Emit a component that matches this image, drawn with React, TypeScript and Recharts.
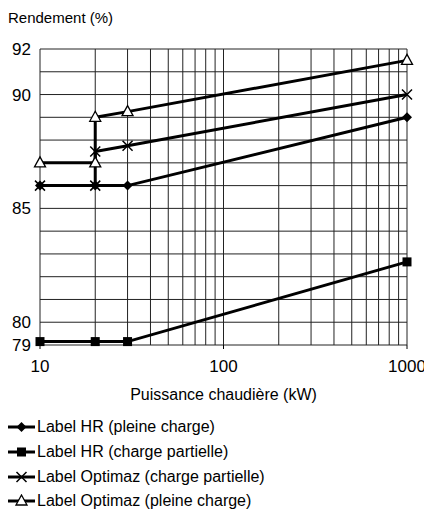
import { Line, LineChart, ReferenceLine, XAxis, YAxis } from "recharts";

// puissance (kW) / rendement (%)
const hrPleineP = [10, 20, 30, 1000];
const hrPleineR = [86, 86, 86, 89];
const hrPartielleP = [10, 20, 30, 1000];
const hrPartielleR = [79.15, 79.15, 79.15, 82.65];
const optPartielleP = [10, 20, 20, 30, 1000];
const optPartielleR = [86, 86, 87.5, 87.75, 90];
const optPleineP = [10, 20, 20, 30, 1000];
const optPleineR = [87, 87, 89, 89.25, 91.5];

const xTicks = [10, 100, 1000];
const yTicks = [79, 80, 85, 90, 92];
const xGrid = [10, 20, 30, 40, 50, 60, 70, 80, 90, 100, 200, 300, 400, 500, 600, 700, 800, 900, 1000];
const yGrid = [79, 80, 81, 82, 83, 84, 85, 86, 87, 88, 89, 90, 91, 92];

const toPoints = (p: number[], r: number[]) => p.map((x, i) => ({ p: x, r: r[i] }));

type Shape = "diamond" | "square" | "cross" | "triangle";

const series: { name: string; shape: Shape; data: { p: number; r: number }[] }[] = [
  { name: "Label HR (pleine charge)", shape: "diamond", data: toPoints(hrPleineP, hrPleineR) },
  { name: "Label HR (charge partielle)", shape: "square", data: toPoints(hrPartielleP, hrPartielleR) },
  { name: "Label Optimaz (charge partielle)", shape: "cross", data: toPoints(optPartielleP, optPartielleR) },
  { name: "Label Optimaz (pleine charge)", shape: "triangle", data: toPoints(optPleineP, optPleineR) },
];

const FONT = "'Liberation Sans', Arial, sans-serif";

function Marker({ shape, cx, cy }: { shape: Shape; cx: number; cy: number }) {
  if (shape === "diamond")
    return <path d={`M${cx},${cy - 5}L${cx + 5},${cy}L${cx},${cy + 5}L${cx - 5},${cy}Z`} fill="#000" />;
  if (shape === "square") return <rect x={cx - 4.5} y={cy - 4.5} width={9} height={9} fill="#000" />;
  if (shape === "cross")
    return (
      <path
        d={`M${cx - 5},${cy - 5}L${cx + 5},${cy + 5}M${cx - 5},${cy + 5}L${cx + 5},${cy - 5}`}
        stroke="#000"
        strokeWidth={1.5}
      />
    );
  return (
    <path
      d={`M${cx},${cy - 6}L${cx + 5.5},${cy + 4}L${cx - 5.5},${cy + 4}Z`}
      fill="#fff"
      stroke="#000"
      strokeWidth={1.3}
    />
  );
}

export default function App() {
  return (
    <div style={{ position: "relative", width: 424, fontFamily: FONT }}>
      <div style={{ position: "absolute", left: 0, top: 0, fontSize: 15, lineHeight: "20px" }}>
        Rendement (%)
      </div>
      <LineChart width={424} height={400} margin={{ top: 41, right: 25, bottom: 0, left: 0 }}>
        {yGrid.map((v) => (
          <ReferenceLine key={`h${v}`} y={v} stroke="#222" strokeWidth={1} />
        ))}
        {xGrid.map((v) => (
          <ReferenceLine key={`v${v}`} x={v} stroke="#222" strokeWidth={1} />
        ))}
        <XAxis
          dataKey="p"
          type="number"
          scale="log"
          domain={[10, 1000]}
          ticks={xTicks}
          interval={0}
          allowDuplicatedCategory={false}
          axisLine={false}
          tickLine={{ stroke: "#000" }}
          tickSize={4}
          tickMargin={11}
          height={63}
          tick={{ fill: "#000", fontSize: 17, fontFamily: FONT }}
          label={{ value: "Puissance chaudière (kW)", position: "insideBottom", offset: 8, fill: "#000", fontSize: 16, fontFamily: FONT }}
        />
        <YAxis
          dataKey="r"
          type="number"
          domain={[79, 92]}
          ticks={yTicks}
          interval={0}
          axisLine={false}
          tickLine={false}
          tickSize={0}
          tickMargin={9}
          width={32}
          tick={{ fill: "#000", fontSize: 17, fontFamily: FONT }}
        />
        {series.map((s) => (
          <Line
            key={s.name}
            data={s.data}
            dataKey="r"
            name={s.name}
            type="linear"
            stroke="#000"
            strokeWidth={3}
            isAnimationActive={false}
            dot={(props: any) => (
              <Marker key={`${s.shape}-${props.index}`} shape={s.shape} cx={props.cx} cy={props.cy} />
            )}
          />
        ))}
      </LineChart>
      <div style={{ marginTop: 7 }}>
        {series.map((s) => (
          <div key={s.name} style={{ display: "flex", alignItems: "center", height: 24.7, fontSize: 16 }}>
            <svg width={29} height={14}>
              <line x1={0} y1={7} x2={27} y2={7} stroke="#000" strokeWidth={3} />
              <Marker shape={s.shape} cx={13.5} cy={7} />
            </svg>
            <span>{s.name}</span>
          </div>
        ))}
      </div>
    </div>
  );
}
